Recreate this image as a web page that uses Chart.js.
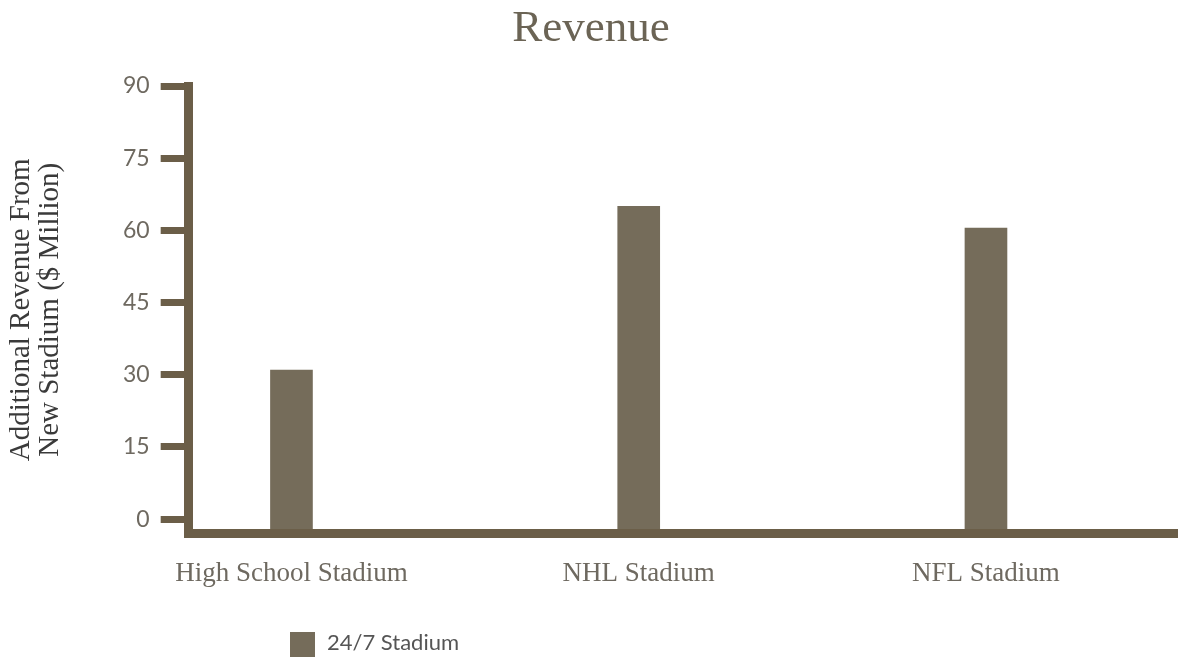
<!DOCTYPE html>
<html>
<head>
<meta charset="utf-8">
<script src="https://cdn.jsdelivr.net/npm/chart.js@4.4.1/dist/chart.umd.min.js"></script>
<style>
  html, body { margin: 0; padding: 0; background: #fff; }
  #wrap { width: 1178px; height: 657px; position: relative; }
</style>
</head>
<body>
<div id="wrap"><canvas id="chart" width="1178" height="657"></canvas></div>
<script>
const categories = ["High School Stadium", "NHL Stadium", "NFL Stadium"];
const seriesName = "24/7 Stadium";
const revenue = [31, 65, 60.5];
const yTicks = [0, 15, 30, 45, 60, 75, 90];

const barColor = "rgb(117, 108, 90)";
const axisColor = "rgb(107, 94, 72)";
const labelColor = "rgb(110, 105, 96)";

// legend drawn by hand so it can sit off-centre like the original
const legendPlugin = {
  id: "manualLegend",
  afterDraw: (chart) => {
    const ctx = chart.ctx;
    const ds = chart.data.datasets[0];
    ctx.save();
    ctx.fillStyle = ds.backgroundColor;
    ctx.fillRect(290, 632, 25, 25);
    ctx.fillStyle = "rgb(85, 85, 85)";
    ctx.font = "22px Lato, sans-serif";
    ctx.textBaseline = "middle";
    ctx.fillText(ds.label, 327, 643);
    ctx.restore();
  },
};

new Chart(document.getElementById("chart"), {
  type: "bar",
  data: {
    datasets: [
      {
        label: seriesName,
        data: revenue.map((v, i) => ({ x: i, y: v })),
        backgroundColor: barColor,
        barThickness: 42,
        base: -2,
      },
    ],
  },
  options: {
    responsive: false,
    animation: false,
    layout: { padding: { left: 4, right: 0, top: 2, bottom: 43 } },
    scales: {
      x: {
        type: "linear",
        offset: false,
        min: -0.296,
        max: 2.553,
        afterBuildTicks: (scale) => {
          scale.ticks = categories.map((c, i) => ({ value: i }));
        },
        ticks: {
          callback: (v) => categories[v],
          color: labelColor,
          font: { family: "'Liberation Serif', serif", size: 27 },
          padding: 24,
          maxRotation: 0,
          autoSkip: false,
        },
        grid: { display: false, drawTicks: false, offset: false },
        border: { display: true, color: axisColor, width: 9 },
      },
      y: {
        min: -3,
        max: 90,
        afterBuildTicks: (scale) => {
          scale.ticks = yTicks.map((v) => ({ value: v }));
        },
        ticks: {
          color: labelColor,
          font: { family: "Lato, sans-serif", size: 23 },
          padding: 11,
        },
        grid: {
          drawOnChartArea: false,
          drawTicks: true,
          tickLength: 28,
          lineWidth: 7,
          color: axisColor,
        },
        border: { display: true, color: axisColor, width: 9 },
        title: {
          display: true,
          text: ["Additional Revenue From", "New Stadium ($ Million)"],
          color: "rgb(58, 58, 58)",
          font: { family: "'Liberation Serif', serif", size: 29, lineHeight: 1.0 },
          padding: { top: 3, bottom: 47 },
        },
      },
    },
    plugins: {
      legend: { display: false },
      tooltip: { enabled: false },
      title: {
        display: true,
        text: "Revenue",
        color: "rgb(107, 100, 85)",
        font: { family: "'Liberation Serif', serif", size: 45, weight: "normal" },
        padding: { top: 0, bottom: 30 },
      },
    },
  },
  plugins: [legendPlugin],
});
</script>
</body>
</html>
